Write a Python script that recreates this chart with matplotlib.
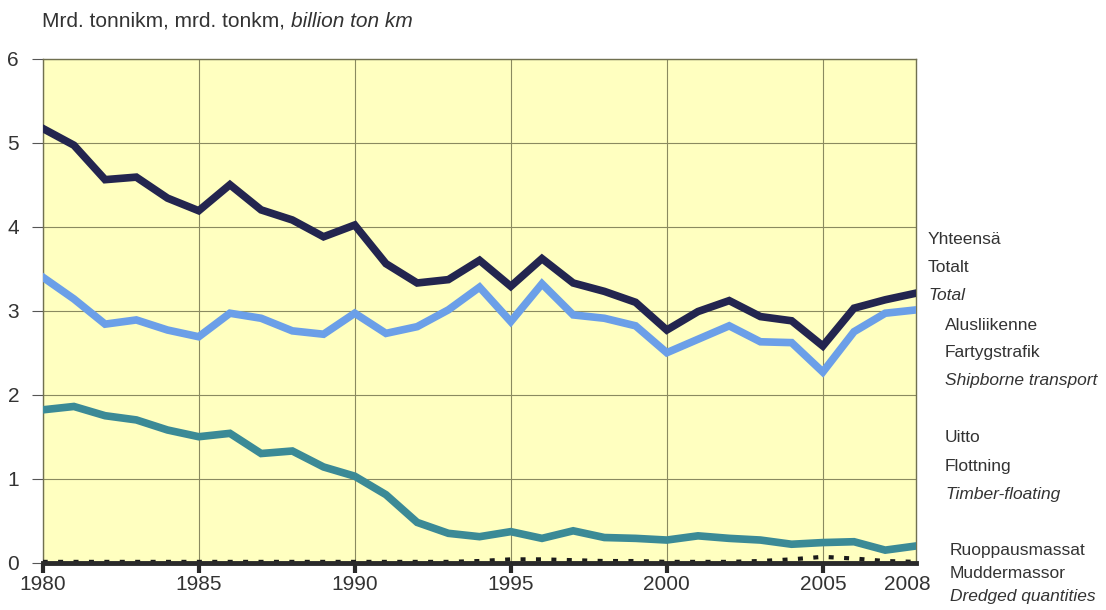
import matplotlib.pyplot as plt

plt.rcParams['font.family'] = ['Liberation Sans', 'DejaVu Sans']

# Data (billion ton km)
years = list(range(1980, 2009))
total = [5.17, 4.97, 4.56, 4.59, 4.34, 4.19, 4.50, 4.20, 4.08, 3.88,
         4.02, 3.56, 3.33, 3.37, 3.60, 3.29, 3.62, 3.33, 3.23, 3.10,
         2.77, 2.99, 3.12, 2.93, 2.88, 2.58, 3.03, 3.13, 3.21]
shipborne = [3.40, 3.14, 2.84, 2.89, 2.77, 2.69, 2.97, 2.91, 2.76, 2.72,
             2.97, 2.73, 2.81, 3.01, 3.28, 2.87, 3.32, 2.95, 2.91, 2.82,
             2.50, 2.66, 2.82, 2.63, 2.62, 2.27, 2.75, 2.97, 3.01]
timber = [1.82, 1.86, 1.75, 1.70, 1.58, 1.50, 1.54, 1.30, 1.33, 1.14,
          1.03, 0.81, 0.48, 0.35, 0.31, 0.37, 0.29, 0.38, 0.30, 0.29,
          0.27, 0.32, 0.29, 0.27, 0.22, 0.24, 0.25, 0.15, 0.20]
dredged = [0.01, 0.01, 0.01, 0.01, 0.01, 0.01, 0.01, 0.01, 0.01, 0.01,
           0.01, 0.01, 0.01, 0.01, 0.02, 0.04, 0.04, 0.03, 0.02, 0.02,
           0.01, 0.01, 0.01, 0.02, 0.04, 0.07, 0.05, 0.02, 0.01]

xticks = [1980, 1985, 1990, 1995, 2000, 2005]
label_years = [1980, 1985, 1990, 1995, 2000, 2005, 2007.7]
xlabels = ['1980', '1985', '1990', '1995', '2000', '2005', '2008']

fig = plt.figure(figsize=(11.06, 6.10), dpi=100)
ax = fig.add_axes([0.0386, 0.0775, 0.790, 0.8263])
ax.set_facecolor('#ffffc0')

ax.plot(years, timber, color='#3b8a96', lw=5.5, solid_joinstyle='miter', zorder=3)
ax.plot(years, shipborne, color='#6b9fe8', lw=5.5, solid_joinstyle='miter', zorder=3)
ax.plot(years, total, color='#23254f', lw=5.5, solid_joinstyle='miter', zorder=4)
ax.plot(years, dredged, color='#1a1a1a', lw=3, ls=(0, (1.2, 2.5)), zorder=5)

ax.set_xlim(1980, 2008)
ax.set_ylim(0, 6)
ax.set_yticks(range(0, 7))
ax.set_xticks(xticks)
ax.set_xticklabels([])
ax.grid(True, color='#8a8a60', lw=0.8)
ax.set_axisbelow(True)

for s in ['top', 'right', 'left']:
    ax.spines[s].set_color('#707050')
    ax.spines[s].set_linewidth(1.0)
ax.spines['bottom'].set_color('#2a2a2a')
ax.spines['bottom'].set_linewidth(3.5)
ax.spines['bottom'].set_zorder(6)

ax.tick_params(axis='y', length=8, width=0.8, color='#555555', labelsize=15, pad=9, labelcolor='#333333')
ax.tick_params(axis='x', length=7, width=3, color='#2a2a2a', direction='out')

for yr, lab in zip(label_years, xlabels):
    ax.text(yr, -0.15, lab, ha='center', va='top', fontsize=15, color='#333333',
            clip_on=False)

# title: regular part followed by italic part
t1 = fig.text(0.038, 0.965, 'Mrd. tonnikm, mrd. tonkm, ', fontsize=15, color='#333333', va='center')
ax.annotate('billion ton km', xy=(1, 0.5), xycoords=t1, va='center', ha='left',
            fontsize=15, color='#333333', style='italic', annotation_clip=False)

labels = [
    (928, 240, 'Yhteensä', 'normal'), (928, 268, 'Totalt', 'normal'), (928, 296, 'Total', 'italic'),
    (945, 325, 'Alusliikenne', 'normal'), (945, 353, 'Fartygstrafik', 'normal'),
    (945, 381, 'Shipborne transport', 'italic'),
    (945, 438, 'Uitto', 'normal'), (945, 466, 'Flottning', 'normal'),
    (945, 495, 'Timber-floating', 'italic'),
    (950, 550, 'Ruoppausmassat', 'normal'), (950, 574, 'Muddermassor', 'normal'),
    (950, 597, 'Dredged quantities', 'italic'),
]
for px, py, txt, st in labels:
    fig.text(px / 1106, 1 - py / 610, txt, fontsize=12.5, color='#333333',
             va='center', ha='left', style=st)

fig.savefig('out.png', dpi=100)
